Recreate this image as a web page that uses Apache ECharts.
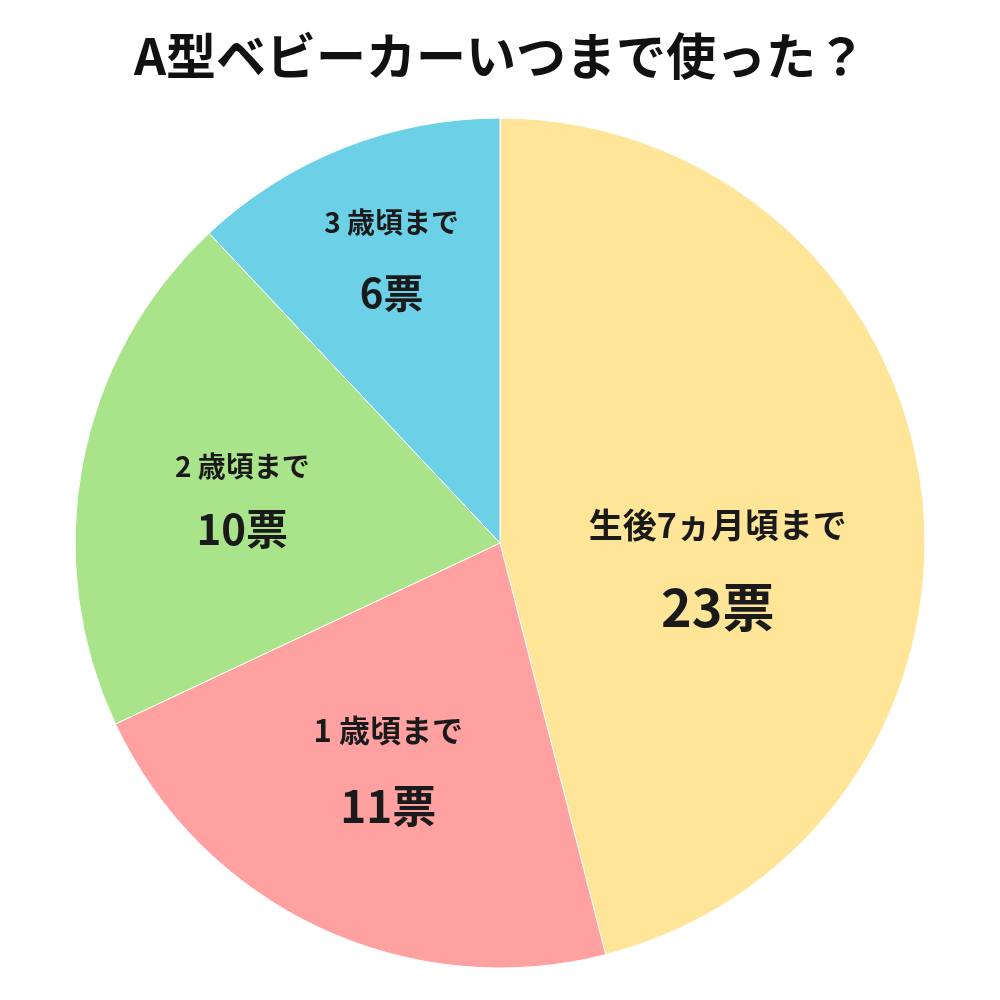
<!DOCTYPE html>
<html><head><meta charset="utf-8">
<script src="https://cdn.jsdelivr.net/npm/echarts@6/dist/echarts.min.js"></script>
<style>html,body{margin:0;padding:0;background:#fff}#c{width:1000px;height:1000px}</style>
</head><body><div id="c"></div>
<script>
const titleText = 'A型ベビーカーいつまで使った？';
const categories = ['生後7ヵ月頃まで', '1 歳頃まで', '2 歳頃まで', '3 歳頃まで'];
const votes = [23, 11, 10, 6];
const unit = '票';

const colors = ['#FFE597', '#FFA0A1', '#A9E48B', '#6CD1E7'];
const nameSizes = [34, 31, 28, 28];
const valueSizes = [52, 44, 42, 40];
const lineGaps = [82, 76, 62, 71];
const labelShift = [[4, 50], [-20, 30], [-46, -5], [-29, -85]];

const FONT = '"Noto Sans CJK JP", "Noto Sans", sans-serif';

const data = categories.map((name, i) => ({
  name: name,
  value: votes[i],
  itemStyle: { color: colors[i] },
  label: {
    rich: {
      n: { fontSize: nameSizes[i], fontWeight: 'bold', color: '#1a1a1a', fontFamily: FONT, lineHeight: lineGaps[i], align: 'center' },
      v: { fontSize: valueSizes[i], fontWeight: 'bold', color: '#1a1a1a', fontFamily: FONT, lineHeight: lineGaps[i], align: 'center' }
    }
  }
}));

const chart = echarts.init(document.getElementById('c'), null, { renderer: 'canvas' });
chart.setOption({
  backgroundColor: '#ffffff',
  animation: false,
  title: {
    text: titleText,
    left: 'center',
    top: 26,
    textStyle: { fontSize: 50, fontWeight: 'bold', color: '#111', fontFamily: FONT }
  },
  series: [{
    type: 'pie',
    center: [500, 543],
    radius: [0, 425],
    startAngle: 90,
    clockwise: true,
    itemStyle: { borderColor: '#ffffff', borderWidth: 1 },
    label: {
      show: true,
      position: 'inside',
      formatter: p => '{n|' + p.name + '}\n{v|' + p.value + unit + '}'
    },
    labelLine: { show: false },
    emphasis: { disabled: true },
    labelLayout: function (params) {
      const s = labelShift[params.dataIndex];
      return { dx: s[0], dy: s[1] };
    },
    data: data
  }]
});
</script>
</body></html>
